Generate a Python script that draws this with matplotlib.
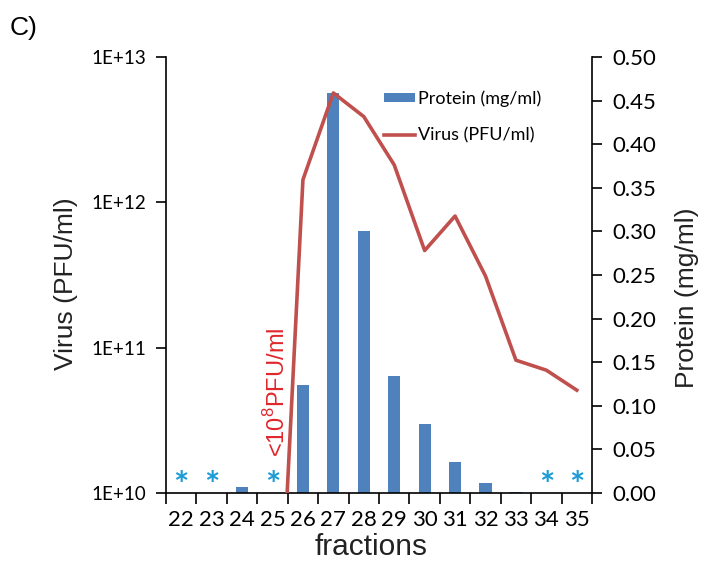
import matplotlib
matplotlib.use("Agg")
from matplotlib import pyplot as plt
from matplotlib.patches import Patch
from matplotlib.lines import Line2D
import numpy as np

plt.rcParams['mathtext.fontset'] = 'custom'
plt.rcParams['mathtext.rm'] = 'Liberation Sans'

# data
fractions = [22, 23, 24, 25, 26, 27, 28, 29, 30, 31, 32, 33, 34, 35]
protein = [0.0, 0.0, 0.0065, 0.0, 0.124, 0.459, 0.300, 0.1345, 0.079, 0.0355, 0.0115, 0.0015, 0.0, 0.0]
virus_fractions = [25, 26, 27, 28, 29, 30, 31, 32, 33, 34, 35]
virus = [1e8, 1.43e12, 5.66e12, 3.89e12, 1.81e12, 4.66e11, 8.05e11, 3.11e11, 8.2e10, 7.0e10, 5.1e10]
star_fractions = [22, 23, 25, 34, 35]

bar_color = '#4f81bd'
line_color = '#c0504d'
star_color = '#1a9ad6'
tick_font = 'Lato'
label_font = 'Liberation Sans'

fig = plt.figure(figsize=(7.04, 5.64), dpi=100)
ax = fig.add_axes([0.2358, 0.1259, 0.6051, 0.7730])
ax2 = ax.twinx()

# protein bars on the right axis
ax2.bar(fractions, protein, width=0.4, color=bar_color, zorder=2)
for f in star_fractions:
    ax2.text(f, -0.0042, '*', color=star_color, fontsize=26, fontweight='bold',
             ha='center', va='baseline', family=tick_font)
ax2.set_ylim(0, 0.5)
ax2.set_yticks(np.arange(0, 0.501, 0.05))
ax2.set_yticklabels(['%.2f' % v for v in np.arange(0, 0.501, 0.05)],
                    fontsize=16, family=tick_font)
ax2.tick_params(axis='y', direction='out', length=7, width=1.2, pad=8)

# virus line on the left (log) axis, drawn on top
ax.set_zorder(ax2.get_zorder() + 1)
ax.patch.set_visible(False)
ax.plot(virus_fractions, virus, color=line_color, lw=2.6, zorder=3)
ax.set_yscale('log')
ax.set_ylim(1e10, 1e13)
ax.set_yticks([1e10, 1e11, 1e12, 1e13])
ax.set_yticklabels(['1E+10', '1E+11', '1E+12', '1E+13'], fontsize=13.5, family=tick_font)
ax.yaxis.set_minor_locator(matplotlib.ticker.NullLocator())
ax.tick_params(axis='y', direction='out', length=7, width=1.2, pad=7)

ax.set_xlim(21.5, 35.5)
ax.set_xticks(fractions)
ax.set_xticklabels([str(f) for f in fractions], fontsize=16, family=tick_font)
ax.set_xticks(np.arange(21.5, 35.6, 1), minor=True)
ax.tick_params(axis='x', which='major', length=0, pad=12)
ax.tick_params(axis='x', which='minor', direction='out', length=8, width=1.2)

for a in (ax, ax2):
    a.spines['top'].set_visible(False)
    for s in ('left', 'right', 'bottom'):
        a.spines[s].set_linewidth(1.2)
ax2.spines['left'].set_visible(False)
ax.spines['right'].set_visible(False)
ax2.spines['bottom'].set_visible(False)

ax.set_ylabel('Virus (PFU/ml)', fontsize=19, family=label_font, color='#222222')
ax.yaxis.set_label_coords(-0.207, 0.48)
ax2.set_ylabel('Protein (mg/ml)', fontsize=19, family=label_font, color='#222222')
ax2.yaxis.set_label_coords(1.195, 0.447)
ax.set_xlabel('fractions', fontsize=21.5, family=label_font, color='#222222')
ax.xaxis.set_label_coords(0.481, -0.092)

ax2.text(25.15, 0.116, r'<10$^\mathregular{8}$PFU/ml', rotation=90, color='#e0262b',
         fontsize=17, family=label_font, ha='center', va='center', zorder=4)

fig.text(0.013, 0.950, 'C)', fontsize=19, family=label_font, ha='left', va='center')

handles = [Patch(facecolor=bar_color, edgecolor='none'),
           Line2D([0], [0], color=line_color, lw=2.6)]
leg = ax.legend(handles, ['Protein (mg/ml)', 'Virus (PFU/ml)'], loc='upper left',
                bbox_to_anchor=(0.545, 0.84), bbox_transform=fig.transFigure,
                frameon=False, prop={'family': tick_font, 'size': 13},
                handlelength=1.75, handleheight=0.45, handletextpad=0.15,
                labelspacing=1.15, borderaxespad=0, borderpad=0)

fig.savefig('out.png', dpi=100)
